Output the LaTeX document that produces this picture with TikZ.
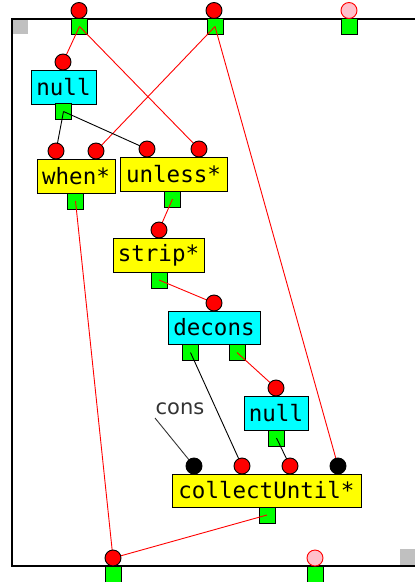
\documentclass[tikz,border=0pt]{standalone}
\usepackage{fontspec}
\newfontfamily\boxfont{DejaVu Sans Mono}
\newfontfamily\labfont{DejaVu Sans}
\pgfdeclarelayer{lines}
\pgfdeclarelayer{top}
\pgfsetlayers{main,lines,top}
\definecolor{cy}{RGB}{0,255,255}
\definecolor{ye}{RGB}{255,255,0}
\definecolor{gr}{RGB}{0,255,0}
\definecolor{pk}{RGB}{255,192,203}
\definecolor{gy}{RGB}{192,192,192}
\begin{document}
\begin{tikzpicture}[x=1pt,y=-1pt,
  fbox/.style={draw=black,line width=0.9pt,inner sep=0pt,font=\boxfont\fontsize{22.5}{24}\selectfont,minimum height=#1},
  fbox/.default=34pt,
  cybox/.style={fbox,fill=cy},
  yebox/.style={fbox,fill=ye},
  outsq/.style={draw=black,line width=0.9pt,fill=gr,minimum width=16pt,minimum height=16pt,inner sep=0pt},
  inred/.style={circle,draw=black,line width=0.9pt,fill=red,minimum size=16pt,inner sep=0pt},
  inblk/.style={circle,draw=black,line width=0.9pt,fill=black,minimum size=16pt,inner sep=0pt},
  inpk/.style={circle,draw=red,line width=0.9pt,fill=pk,minimum size=16pt,inner sep=0pt},
  rw/.style={draw=red,line width=0.9pt},
  bw/.style={draw=black,line width=0.9pt}]
\useasboundingbox (0,0) rectangle (415,582);
\fill[white] (0,0) rectangle (415,582);
% frame
\draw[line width=1.5pt] (415,19) -- (12,19) -- (12,566) -- (415,566);
\fill[gy] (13,20) rectangle (28,34);
\fill[gy] (400,549) rectangle (415,565.2);
% boxes
\node[cybox,minimum width=65pt] (null1) at (63.5,87) {null};
\node[yebox,minimum width=78pt] (when) at (76,176) {when*};
\node[yebox,minimum width=107pt] (unless) at (173.5,174) {unless*};
\node[yebox,minimum width=91pt] (strip) at (158.5,255) {strip*};
\node[cybox,minimum width=92pt,minimum height=33pt] (decons) at (214,327.5) {decons};
\node[cybox,minimum width=64pt] (null2) at (276,413) {null};
\node[yebox,minimum width=189pt,minimum height=33pt] (collect) at (266.5,490.5) {collectUntil*};
% output squares
\node[outsq] (tp1o) at (79.5,26.5) {};
\node[outsq] (tp2o) at (215,26.5) {};
\node[outsq] (tp3o) at (349.5,26.5) {};
\node[outsq] (null1o) at (63.5,111.5) {};
\node[outsq] (wheno) at (75.5,201) {};
\node[outsq] (unlesso) at (172.5,199) {};
\node[outsq] (stripo) at (159,280) {};
\node[outsq] (decons1o) at (190.5,352.5) {};
\node[outsq] (decons2o) at (237,352.5) {};
\node[outsq] (null2o) at (276.5,438) {};
\node[outsq] (collecto) at (267,515) {};
\node[outsq] (bp1o) at (113.5,574) {};
\node[outsq] (bp2o) at (315,574) {};
% input circles
\begin{pgfonlayer}{top}
\node[inred] (tp1) at (79,10.5) {};
\node[inred] (tp2) at (214,10.5) {};
\node[inpk] (tp3) at (349,10.5) {};
\node[inred] (null1i) at (63,62) {};
\node[inred] (when1i) at (56,151) {};
\node[inred] (when2i) at (96,151) {};
\node[inred] (unless1i) at (147,149) {};
\node[inred] (unless2i) at (199,149) {};
\node[inred] (stripi) at (159,230) {};
\node[inred] (deconsi) at (214,303) {};
\node[inred] (null2i) at (276,388) {};
\node[inblk] (coll1i) at (194,466) {};
\node[inred] (coll2i) at (242,466) {};
\node[inred] (coll3i) at (290,466) {};
\node[inblk] (coll4i) at (338,466) {};
\node[inred] (bp1) at (113,558) {};
\node[inpk] (bp2) at (315,558) {};
\end{pgfonlayer}
% label
\node[font=\labfont\fontsize{21}{22}\selectfont,text=black!80,inner sep=0pt] (cons) at (180,409) {cons};
\coordinate (consend) at (155,418);
% connectors
\begin{pgfonlayer}{lines}
\draw[rw] (tp1o.center) -- (null1i.center);
\draw[rw] (tp1o.center) -- (unless2i.center);
\draw[rw] (tp2o.center) -- (when2i.center);
\draw[rw] (tp2o.center) -- (coll4i.center);
\draw[bw] (null1o.center) -- (when1i.center);
\draw[bw] (null1o.center) -- (unless1i.center);
\draw[rw] (wheno.center) -- (bp1.center);
\draw[rw] (unlesso.center) -- (stripi.center);
\draw[rw] (stripo.center) -- (deconsi.center);
\draw[bw] (decons1o.center) -- (coll2i.center);
\draw[rw] (decons2o.center) -- (null2i.center);
\draw[bw] (null2o.center) -- (coll3i.center);
\draw[rw] (collecto.center) -- (bp1.center);
\draw[draw=black!80,line width=0.9pt] (consend) -- (coll1i.center);
\end{pgfonlayer}
\end{tikzpicture}
\end{document}
